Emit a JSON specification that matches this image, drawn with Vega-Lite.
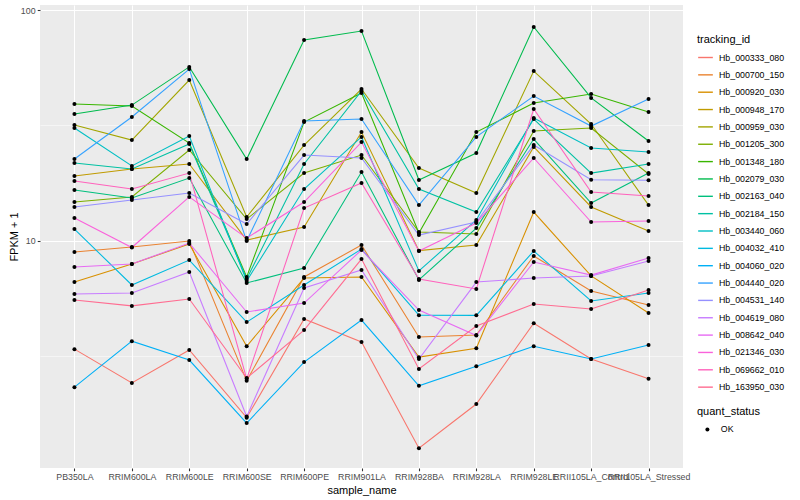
{
  "$schema": "https://vega.github.io/schema/vega-lite/v6.json",
  "width": 643,
  "height": 463,
  "autosize": {"type": "none"},
  "padding": {"left": 40, "top": 5, "right": 117, "bottom": 32},
  "background": "#FFFFFF",
  "config": {
    "view": {"fill": "#EBEBEB", "stroke": null},
    "font": "Liberation Sans",
    "axis": {
      "labelFont": "Liberation Sans",
      "titleFont": "Liberation Sans",
      "labelFontSize": 8.8,
      "labelColor": "#4D4D4D",
      "titleFontSize": 11,
      "titleColor": "#000000",
      "titleFontWeight": "normal",
      "tickColor": "#333333",
      "tickSize": 2.75,
      "tickWidth": 1.07,
      "domain": false,
      "gridColor": "#FFFFFF",
      "gridWidth": 1.07,
      "gridOpacity": 1,
      "labelPadding": 2.2
    },
    "legend": {
      "titleFont": "Liberation Sans",
      "labelFont": "Liberation Sans",
      "titleFontSize": 11,
      "titleFontWeight": "normal",
      "titleColor": "#000000",
      "labelFontSize": 8.8,
      "labelColor": "#000000"
    }
  },
  "data": {
    "values": [
      {"tracking_id":"Hb_000333_080","sample_name":"PB350LA","FPKM":3.39,"quant_status":"OK"},
      {"tracking_id":"Hb_000333_080","sample_name":"RRIM600LA","FPKM":2.42,"quant_status":"OK"},
      {"tracking_id":"Hb_000333_080","sample_name":"RRIM600LE","FPKM":3.36,"quant_status":"OK"},
      {"tracking_id":"Hb_000333_080","sample_name":"RRIM600SE","FPKM":1.71,"quant_status":"OK"},
      {"tracking_id":"Hb_000333_080","sample_name":"RRIM600PE","FPKM":4.58,"quant_status":"OK"},
      {"tracking_id":"Hb_000333_080","sample_name":"RRIM901LA","FPKM":3.64,"quant_status":"OK"},
      {"tracking_id":"Hb_000333_080","sample_name":"RRIM928BA","FPKM":1.26,"quant_status":"OK"},
      {"tracking_id":"Hb_000333_080","sample_name":"RRIM928LA","FPKM":1.96,"quant_status":"OK"},
      {"tracking_id":"Hb_000333_080","sample_name":"RRIM928LE","FPKM":4.39,"quant_status":"OK"},
      {"tracking_id":"Hb_000333_080","sample_name":"RRII105LA_Control","FPKM":3.07,"quant_status":"OK"},
      {"tracking_id":"Hb_000333_080","sample_name":"RRII105LA_Stressed","FPKM":2.52,"quant_status":"OK"},

      {"tracking_id":"Hb_000700_150","sample_name":"PB350LA","FPKM":8.94,"quant_status":"OK"},
      {"tracking_id":"Hb_000700_150","sample_name":"RRIM600LA","FPKM":9.40,"quant_status":"OK"},
      {"tracking_id":"Hb_000700_150","sample_name":"RRIM600LE","FPKM":9.97,"quant_status":"OK"},
      {"tracking_id":"Hb_000700_150","sample_name":"RRIM600SE","FPKM":2.47,"quant_status":"OK"},
      {"tracking_id":"Hb_000700_150","sample_name":"RRIM600PE","FPKM":6.97,"quant_status":"OK"},
      {"tracking_id":"Hb_000700_150","sample_name":"RRIM901LA","FPKM":9.58,"quant_status":"OK"},
      {"tracking_id":"Hb_000700_150","sample_name":"RRIM928BA","FPKM":3.83,"quant_status":"OK"},
      {"tracking_id":"Hb_000700_150","sample_name":"RRIM928LA","FPKM":3.90,"quant_status":"OK"},
      {"tracking_id":"Hb_000700_150","sample_name":"RRIM928LE","FPKM":8.59,"quant_status":"OK"},
      {"tracking_id":"Hb_000700_150","sample_name":"RRII105LA_Control","FPKM":6.06,"quant_status":"OK"},
      {"tracking_id":"Hb_000700_150","sample_name":"RRII105LA_Stressed","FPKM":5.27,"quant_status":"OK"},

      {"tracking_id":"Hb_000920_030","sample_name":"PB350LA","FPKM":6.62,"quant_status":"OK"},
      {"tracking_id":"Hb_000920_030","sample_name":"RRIM600LA","FPKM":7.93,"quant_status":"OK"},
      {"tracking_id":"Hb_000920_030","sample_name":"RRIM600LE","FPKM":9.68,"quant_status":"OK"},
      {"tracking_id":"Hb_000920_030","sample_name":"RRIM600SE","FPKM":3.49,"quant_status":"OK"},
      {"tracking_id":"Hb_000920_030","sample_name":"RRIM600PE","FPKM":6.89,"quant_status":"OK"},
      {"tracking_id":"Hb_000920_030","sample_name":"RRIM901LA","FPKM":6.97,"quant_status":"OK"},
      {"tracking_id":"Hb_000920_030","sample_name":"RRIM928BA","FPKM":3.13,"quant_status":"OK"},
      {"tracking_id":"Hb_000920_030","sample_name":"RRIM928LA","FPKM":3.42,"quant_status":"OK"},
      {"tracking_id":"Hb_000920_030","sample_name":"RRIM928LE","FPKM":13.32,"quant_status":"OK"},
      {"tracking_id":"Hb_000920_030","sample_name":"RRII105LA_Control","FPKM":7.04,"quant_status":"OK"},
      {"tracking_id":"Hb_000920_030","sample_name":"RRII105LA_Stressed","FPKM":4.86,"quant_status":"OK"},

      {"tracking_id":"Hb_000948_170","sample_name":"PB350LA","FPKM":19.08,"quant_status":"OK"},
      {"tracking_id":"Hb_000948_170","sample_name":"RRIM600LA","FPKM":20.47,"quant_status":"OK"},
      {"tracking_id":"Hb_000948_170","sample_name":"RRIM600LE","FPKM":21.52,"quant_status":"OK"},
      {"tracking_id":"Hb_000948_170","sample_name":"RRIM600SE","FPKM":10.07,"quant_status":"OK"},
      {"tracking_id":"Hb_000948_170","sample_name":"RRIM600PE","FPKM":11.48,"quant_status":"OK"},
      {"tracking_id":"Hb_000948_170","sample_name":"RRIM901LA","FPKM":29.60,"quant_status":"OK"},
      {"tracking_id":"Hb_000948_170","sample_name":"RRIM928BA","FPKM":9.06,"quant_status":"OK"},
      {"tracking_id":"Hb_000948_170","sample_name":"RRIM928LA","FPKM":9.58,"quant_status":"OK"},
      {"tracking_id":"Hb_000948_170","sample_name":"RRIM928LE","FPKM":25.50,"quant_status":"OK"},
      {"tracking_id":"Hb_000948_170","sample_name":"RRII105LA_Control","FPKM":14.01,"quant_status":"OK"},
      {"tracking_id":"Hb_000948_170","sample_name":"RRII105LA_Stressed","FPKM":11.02,"quant_status":"OK"},

      {"tracking_id":"Hb_000959_030","sample_name":"PB350LA","FPKM":31.74,"quant_status":"OK"},
      {"tracking_id":"Hb_000959_030","sample_name":"RRIM600LA","FPKM":27.33,"quant_status":"OK"},
      {"tracking_id":"Hb_000959_030","sample_name":"RRIM600LE","FPKM":49.75,"quant_status":"OK"},
      {"tracking_id":"Hb_000959_030","sample_name":"RRIM600SE","FPKM":12.68,"quant_status":"OK"},
      {"tracking_id":"Hb_000959_030","sample_name":"RRIM600PE","FPKM":25.99,"quant_status":"OK"},
      {"tracking_id":"Hb_000959_030","sample_name":"RRIM901LA","FPKM":45.47,"quant_status":"OK"},
      {"tracking_id":"Hb_000959_030","sample_name":"RRIM928BA","FPKM":20.67,"quant_status":"OK"},
      {"tracking_id":"Hb_000959_030","sample_name":"RRIM928LA","FPKM":16.10,"quant_status":"OK"},
      {"tracking_id":"Hb_000959_030","sample_name":"RRIM928LE","FPKM":54.42,"quant_status":"OK"},
      {"tracking_id":"Hb_000959_030","sample_name":"RRII105LA_Control","FPKM":32.07,"quant_status":"OK"},
      {"tracking_id":"Hb_000959_030","sample_name":"RRII105LA_Stressed","FPKM":14.28,"quant_status":"OK"},

      {"tracking_id":"Hb_001205_300","sample_name":"PB350LA","FPKM":14.72,"quant_status":"OK"},
      {"tracking_id":"Hb_001205_300","sample_name":"RRIM600LA","FPKM":15.49,"quant_status":"OK"},
      {"tracking_id":"Hb_001205_300","sample_name":"RRIM600LE","FPKM":24.74,"quant_status":"OK"},
      {"tracking_id":"Hb_001205_300","sample_name":"RRIM600SE","FPKM":12.42,"quant_status":"OK"},
      {"tracking_id":"Hb_001205_300","sample_name":"RRIM600PE","FPKM":19.65,"quant_status":"OK"},
      {"tracking_id":"Hb_001205_300","sample_name":"RRIM901LA","FPKM":23.53,"quant_status":"OK"},
      {"tracking_id":"Hb_001205_300","sample_name":"RRIM928BA","FPKM":10.91,"quant_status":"OK"},
      {"tracking_id":"Hb_001205_300","sample_name":"RRIM928LA","FPKM":10.70,"quant_status":"OK"},
      {"tracking_id":"Hb_001205_300","sample_name":"RRIM928LE","FPKM":29.90,"quant_status":"OK"},
      {"tracking_id":"Hb_001205_300","sample_name":"RRII105LA_Control","FPKM":30.80,"quant_status":"OK"},
      {"tracking_id":"Hb_001205_300","sample_name":"RRII105LA_Stressed","FPKM":19.47,"quant_status":"OK"},

      {"tracking_id":"Hb_001348_180","sample_name":"PB350LA","FPKM":39.15,"quant_status":"OK"},
      {"tracking_id":"Hb_001348_180","sample_name":"RRIM600LA","FPKM":38.38,"quant_status":"OK"},
      {"tracking_id":"Hb_001348_180","sample_name":"RRIM600LE","FPKM":26.51,"quant_status":"OK"},
      {"tracking_id":"Hb_001348_180","sample_name":"RRIM600SE","FPKM":6.97,"quant_status":"OK"},
      {"tracking_id":"Hb_001348_180","sample_name":"RRIM600PE","FPKM":32.70,"quant_status":"OK"},
      {"tracking_id":"Hb_001348_180","sample_name":"RRIM901LA","FPKM":43.67,"quant_status":"OK"},
      {"tracking_id":"Hb_001348_180","sample_name":"RRIM928BA","FPKM":10.80,"quant_status":"OK"},
      {"tracking_id":"Hb_001348_180","sample_name":"RRIM928LA","FPKM":29.60,"quant_status":"OK"},
      {"tracking_id":"Hb_001348_180","sample_name":"RRIM928LE","FPKM":39.52,"quant_status":"OK"},
      {"tracking_id":"Hb_001348_180","sample_name":"RRII105LA_Control","FPKM":43.26,"quant_status":"OK"},
      {"tracking_id":"Hb_001348_180","sample_name":"RRII105LA_Stressed","FPKM":36.13,"quant_status":"OK"},

      {"tracking_id":"Hb_002079_030","sample_name":"PB350LA","FPKM":35.43,"quant_status":"OK"},
      {"tracking_id":"Hb_002079_030","sample_name":"RRIM600LA","FPKM":38.74,"quant_status":"OK"},
      {"tracking_id":"Hb_002079_030","sample_name":"RRIM600LE","FPKM":56.7,"quant_status":"OK"},
      {"tracking_id":"Hb_002079_030","sample_name":"RRIM600SE","FPKM":22.61,"quant_status":"OK"},
      {"tracking_id":"Hb_002079_030","sample_name":"RRIM600PE","FPKM":74.17,"quant_status":"OK"},
      {"tracking_id":"Hb_002079_030","sample_name":"RRIM901LA","FPKM":81.14,"quant_status":"OK"},
      {"tracking_id":"Hb_002079_030","sample_name":"RRIM928BA","FPKM":18.34,"quant_status":"OK"},
      {"tracking_id":"Hb_002079_030","sample_name":"RRIM928LA","FPKM":24.00,"quant_status":"OK"},
      {"tracking_id":"Hb_002079_030","sample_name":"RRIM928LE","FPKM":84.50,"quant_status":"OK"},
      {"tracking_id":"Hb_002079_030","sample_name":"RRII105LA_Control","FPKM":41.6,"quant_status":"OK"},
      {"tracking_id":"Hb_002079_030","sample_name":"RRII105LA_Stressed","FPKM":27.06,"quant_status":"OK"},

      {"tracking_id":"Hb_002163_040","sample_name":"PB350LA","FPKM":16.60,"quant_status":"OK"},
      {"tracking_id":"Hb_002163_040","sample_name":"RRIM600LA","FPKM":15.32,"quant_status":"OK"},
      {"tracking_id":"Hb_002163_040","sample_name":"RRIM600LE","FPKM":18.70,"quant_status":"OK"},
      {"tracking_id":"Hb_002163_040","sample_name":"RRIM600SE","FPKM":6.56,"quant_status":"OK"},
      {"tracking_id":"Hb_002163_040","sample_name":"RRIM600PE","FPKM":7.62,"quant_status":"OK"},
      {"tracking_id":"Hb_002163_040","sample_name":"RRIM901LA","FPKM":19.85,"quant_status":"OK"},
      {"tracking_id":"Hb_002163_040","sample_name":"RRIM928BA","FPKM":6.76,"quant_status":"OK"},
      {"tracking_id":"Hb_002163_040","sample_name":"RRIM928LA","FPKM":11.35,"quant_status":"OK"},
      {"tracking_id":"Hb_002163_040","sample_name":"RRIM928LE","FPKM":27.60,"quant_status":"OK"},
      {"tracking_id":"Hb_002163_040","sample_name":"RRII105LA_Control","FPKM":14.57,"quant_status":"OK"},
      {"tracking_id":"Hb_002163_040","sample_name":"RRII105LA_Stressed","FPKM":19.65,"quant_status":"OK"},

      {"tracking_id":"Hb_002184_150","sample_name":"PB350LA","FPKM":21.72,"quant_status":"OK"},
      {"tracking_id":"Hb_002184_150","sample_name":"RRIM600LA","FPKM":20.47,"quant_status":"OK"},
      {"tracking_id":"Hb_002184_150","sample_name":"RRIM600LE","FPKM":26.26,"quant_status":"OK"},
      {"tracking_id":"Hb_002184_150","sample_name":"RRIM600SE","FPKM":6.83,"quant_status":"OK"},
      {"tracking_id":"Hb_002184_150","sample_name":"RRIM600PE","FPKM":21.52,"quant_status":"OK"},
      {"tracking_id":"Hb_002184_150","sample_name":"RRIM901LA","FPKM":44.57,"quant_status":"OK"},
      {"tracking_id":"Hb_002184_150","sample_name":"RRIM928BA","FPKM":16.76,"quant_status":"OK"},
      {"tracking_id":"Hb_002184_150","sample_name":"RRIM928LA","FPKM":13.32,"quant_status":"OK"},
      {"tracking_id":"Hb_002184_150","sample_name":"RRIM928LE","FPKM":33.70,"quant_status":"OK"},
      {"tracking_id":"Hb_002184_150","sample_name":"RRII105LA_Control","FPKM":19.65,"quant_status":"OK"},
      {"tracking_id":"Hb_002184_150","sample_name":"RRII105LA_Stressed","FPKM":21.52,"quant_status":"OK"},

      {"tracking_id":"Hb_003440_060","sample_name":"PB350LA","FPKM":30.80,"quant_status":"OK"},
      {"tracking_id":"Hb_003440_060","sample_name":"RRIM600LA","FPKM":21.09,"quant_status":"OK"},
      {"tracking_id":"Hb_003440_060","sample_name":"RRIM600LE","FPKM":28.45,"quant_status":"OK"},
      {"tracking_id":"Hb_003440_060","sample_name":"RRIM600SE","FPKM":6.69,"quant_status":"OK"},
      {"tracking_id":"Hb_003440_060","sample_name":"RRIM600PE","FPKM":16.76,"quant_status":"OK"},
      {"tracking_id":"Hb_003440_060","sample_name":"RRIM901LA","FPKM":28.18,"quant_status":"OK"},
      {"tracking_id":"Hb_003440_060","sample_name":"RRIM928BA","FPKM":7.40,"quant_status":"OK"},
      {"tracking_id":"Hb_003440_060","sample_name":"RRIM928LA","FPKM":12.30,"quant_status":"OK"},
      {"tracking_id":"Hb_003440_060","sample_name":"RRIM928LE","FPKM":34.04,"quant_status":"OK"},
      {"tracking_id":"Hb_003440_060","sample_name":"RRII105LA_Control","FPKM":25.24,"quant_status":"OK"},
      {"tracking_id":"Hb_003440_060","sample_name":"RRII105LA_Stressed","FPKM":24.25,"quant_status":"OK"},

      {"tracking_id":"Hb_004032_410","sample_name":"PB350LA","FPKM":11.24,"quant_status":"OK"},
      {"tracking_id":"Hb_004032_410","sample_name":"RRIM600LA","FPKM":6.43,"quant_status":"OK"},
      {"tracking_id":"Hb_004032_410","sample_name":"RRIM600LE","FPKM":8.25,"quant_status":"OK"},
      {"tracking_id":"Hb_004032_410","sample_name":"RRIM600SE","FPKM":4.44,"quant_status":"OK"},
      {"tracking_id":"Hb_004032_410","sample_name":"RRIM600PE","FPKM":6.43,"quant_status":"OK"},
      {"tracking_id":"Hb_004032_410","sample_name":"RRIM901LA","FPKM":9.20,"quant_status":"OK"},
      {"tracking_id":"Hb_004032_410","sample_name":"RRIM928BA","FPKM":4.76,"quant_status":"OK"},
      {"tracking_id":"Hb_004032_410","sample_name":"RRIM928LA","FPKM":4.75,"quant_status":"OK"},
      {"tracking_id":"Hb_004032_410","sample_name":"RRIM928LE","FPKM":9.03,"quant_status":"OK"},
      {"tracking_id":"Hb_004032_410","sample_name":"RRII105LA_Control","FPKM":5.48,"quant_status":"OK"},
      {"tracking_id":"Hb_004032_410","sample_name":"RRII105LA_Stressed","FPKM":5.94,"quant_status":"OK"},

      {"tracking_id":"Hb_004060_020","sample_name":"PB350LA","FPKM":2.32,"quant_status":"OK"},
      {"tracking_id":"Hb_004060_020","sample_name":"RRIM600LA","FPKM":3.67,"quant_status":"OK"},
      {"tracking_id":"Hb_004060_020","sample_name":"RRIM600LE","FPKM":3.04,"quant_status":"OK"},
      {"tracking_id":"Hb_004060_020","sample_name":"RRIM600SE","FPKM":1.62,"quant_status":"OK"},
      {"tracking_id":"Hb_004060_020","sample_name":"RRIM600PE","FPKM":2.98,"quant_status":"OK"},
      {"tracking_id":"Hb_004060_020","sample_name":"RRIM901LA","FPKM":4.53,"quant_status":"OK"},
      {"tracking_id":"Hb_004060_020","sample_name":"RRIM928BA","FPKM":2.35,"quant_status":"OK"},
      {"tracking_id":"Hb_004060_020","sample_name":"RRIM928LA","FPKM":2.86,"quant_status":"OK"},
      {"tracking_id":"Hb_004060_020","sample_name":"RRIM928LE","FPKM":3.49,"quant_status":"OK"},
      {"tracking_id":"Hb_004060_020","sample_name":"RRII105LA_Control","FPKM":3.07,"quant_status":"OK"},
      {"tracking_id":"Hb_004060_020","sample_name":"RRII105LA_Stressed","FPKM":3.53,"quant_status":"OK"},

      {"tracking_id":"Hb_004440_020","sample_name":"PB350LA","FPKM":22.61,"quant_status":"OK"},
      {"tracking_id":"Hb_004440_020","sample_name":"RRIM600LA","FPKM":34.40,"quant_status":"OK"},
      {"tracking_id":"Hb_004440_020","sample_name":"RRIM600LE","FPKM":55.5,"quant_status":"OK"},
      {"tracking_id":"Hb_004440_020","sample_name":"RRIM600SE","FPKM":9.97,"quant_status":"OK"},
      {"tracking_id":"Hb_004440_020","sample_name":"RRIM600PE","FPKM":33.04,"quant_status":"OK"},
      {"tracking_id":"Hb_004440_020","sample_name":"RRIM901LA","FPKM":33.70,"quant_status":"OK"},
      {"tracking_id":"Hb_004440_020","sample_name":"RRIM928BA","FPKM":14.28,"quant_status":"OK"},
      {"tracking_id":"Hb_004440_020","sample_name":"RRIM928LA","FPKM":28.2,"quant_status":"OK"},
      {"tracking_id":"Hb_004440_020","sample_name":"RRIM928LE","FPKM":42.4,"quant_status":"OK"},
      {"tracking_id":"Hb_004440_020","sample_name":"RRII105LA_Control","FPKM":31.43,"quant_status":"OK"},
      {"tracking_id":"Hb_004440_020","sample_name":"RRII105LA_Stressed","FPKM":41.15,"quant_status":"OK"},

      {"tracking_id":"Hb_004531_140","sample_name":"PB350LA","FPKM":14.01,"quant_status":"OK"},
      {"tracking_id":"Hb_004531_140","sample_name":"RRIM600LA","FPKM":15.02,"quant_status":"OK"},
      {"tracking_id":"Hb_004531_140","sample_name":"RRIM600LE","FPKM":16.10,"quant_status":"OK"},
      {"tracking_id":"Hb_004531_140","sample_name":"RRIM600SE","FPKM":11.82,"quant_status":"OK"},
      {"tracking_id":"Hb_004531_140","sample_name":"RRIM600PE","FPKM":23.53,"quant_status":"OK"},
      {"tracking_id":"Hb_004531_140","sample_name":"RRIM901LA","FPKM":22.84,"quant_status":"OK"},
      {"tracking_id":"Hb_004531_140","sample_name":"RRIM928BA","FPKM":10.58,"quant_status":"OK"},
      {"tracking_id":"Hb_004531_140","sample_name":"RRIM928LA","FPKM":12.05,"quant_status":"OK"},
      {"tracking_id":"Hb_004531_140","sample_name":"RRIM928LE","FPKM":25.99,"quant_status":"OK"},
      {"tracking_id":"Hb_004531_140","sample_name":"RRII105LA_Control","FPKM":18.4,"quant_status":"OK"},
      {"tracking_id":"Hb_004531_140","sample_name":"RRII105LA_Stressed","FPKM":18.3,"quant_status":"OK"},

      {"tracking_id":"Hb_004619_080","sample_name":"PB350LA","FPKM":5.88,"quant_status":"OK"},
      {"tracking_id":"Hb_004619_080","sample_name":"RRIM600LA","FPKM":5.94,"quant_status":"OK"},
      {"tracking_id":"Hb_004619_080","sample_name":"RRIM600LE","FPKM":7.32,"quant_status":"OK"},
      {"tracking_id":"Hb_004619_080","sample_name":"RRIM600SE","FPKM":1.73,"quant_status":"OK"},
      {"tracking_id":"Hb_004619_080","sample_name":"RRIM600PE","FPKM":6.24,"quant_status":"OK"},
      {"tracking_id":"Hb_004619_080","sample_name":"RRIM901LA","FPKM":7.47,"quant_status":"OK"},
      {"tracking_id":"Hb_004619_080","sample_name":"RRIM928BA","FPKM":3.07,"quant_status":"OK"},
      {"tracking_id":"Hb_004619_080","sample_name":"RRIM928LA","FPKM":6.62,"quant_status":"OK"},
      {"tracking_id":"Hb_004619_080","sample_name":"RRIM928LE","FPKM":6.89,"quant_status":"OK"},
      {"tracking_id":"Hb_004619_080","sample_name":"RRII105LA_Control","FPKM":7.04,"quant_status":"OK"},
      {"tracking_id":"Hb_004619_080","sample_name":"RRII105LA_Stressed","FPKM":8.17,"quant_status":"OK"},

      {"tracking_id":"Hb_008642_040","sample_name":"PB350LA","FPKM":7.70,"quant_status":"OK"},
      {"tracking_id":"Hb_008642_040","sample_name":"RRIM600LA","FPKM":7.93,"quant_status":"OK"},
      {"tracking_id":"Hb_008642_040","sample_name":"RRIM600LE","FPKM":9.77,"quant_status":"OK"},
      {"tracking_id":"Hb_008642_040","sample_name":"RRIM600SE","FPKM":4.91,"quant_status":"OK"},
      {"tracking_id":"Hb_008642_040","sample_name":"RRIM600PE","FPKM":5.37,"quant_status":"OK"},
      {"tracking_id":"Hb_008642_040","sample_name":"RRIM901LA","FPKM":9.12,"quant_status":"OK"},
      {"tracking_id":"Hb_008642_040","sample_name":"RRIM928BA","FPKM":5.01,"quant_status":"OK"},
      {"tracking_id":"Hb_008642_040","sample_name":"RRIM928LA","FPKM":3.88,"quant_status":"OK"},
      {"tracking_id":"Hb_008642_040","sample_name":"RRIM928LE","FPKM":8.09,"quant_status":"OK"},
      {"tracking_id":"Hb_008642_040","sample_name":"RRII105LA_Control","FPKM":7.10,"quant_status":"OK"},
      {"tracking_id":"Hb_008642_040","sample_name":"RRII105LA_Stressed","FPKM":8.42,"quant_status":"OK"},

      {"tracking_id":"Hb_021346_030","sample_name":"PB350LA","FPKM":12.54,"quant_status":"OK"},
      {"tracking_id":"Hb_021346_030","sample_name":"RRIM600LA","FPKM":9.35,"quant_status":"OK"},
      {"tracking_id":"Hb_021346_030","sample_name":"RRIM600LE","FPKM":15.49,"quant_status":"OK"},
      {"tracking_id":"Hb_021346_030","sample_name":"RRIM600SE","FPKM":10.27,"quant_status":"OK"},
      {"tracking_id":"Hb_021346_030","sample_name":"RRIM600PE","FPKM":14.72,"quant_status":"OK"},
      {"tracking_id":"Hb_021346_030","sample_name":"RRIM901LA","FPKM":26.78,"quant_status":"OK"},
      {"tracking_id":"Hb_021346_030","sample_name":"RRIM928BA","FPKM":9.03,"quant_status":"OK"},
      {"tracking_id":"Hb_021346_030","sample_name":"RRIM928LA","FPKM":11.93,"quant_status":"OK"},
      {"tracking_id":"Hb_021346_030","sample_name":"RRIM928LE","FPKM":22.84,"quant_status":"OK"},
      {"tracking_id":"Hb_021346_030","sample_name":"RRII105LA_Control","FPKM":12.05,"quant_status":"OK"},
      {"tracking_id":"Hb_021346_030","sample_name":"RRII105LA_Stressed","FPKM":12.18,"quant_status":"OK"},

      {"tracking_id":"Hb_069662_010","sample_name":"PB350LA","FPKM":18.16,"quant_status":"OK"},
      {"tracking_id":"Hb_069662_010","sample_name":"RRIM600LA","FPKM":16.76,"quant_status":"OK"},
      {"tracking_id":"Hb_069662_010","sample_name":"RRIM600LE","FPKM":19.65,"quant_status":"OK"},
      {"tracking_id":"Hb_069662_010","sample_name":"RRIM600SE","FPKM":2.52,"quant_status":"OK"},
      {"tracking_id":"Hb_069662_010","sample_name":"RRIM600PE","FPKM":13.86,"quant_status":"OK"},
      {"tracking_id":"Hb_069662_010","sample_name":"RRIM901LA","FPKM":17.79,"quant_status":"OK"},
      {"tracking_id":"Hb_069662_010","sample_name":"RRIM928BA","FPKM":6.83,"quant_status":"OK"},
      {"tracking_id":"Hb_069662_010","sample_name":"RRIM928LA","FPKM":6.18,"quant_status":"OK"},
      {"tracking_id":"Hb_069662_010","sample_name":"RRIM928LE","FPKM":37.24,"quant_status":"OK"},
      {"tracking_id":"Hb_069662_010","sample_name":"RRII105LA_Control","FPKM":16.27,"quant_status":"OK"},
      {"tracking_id":"Hb_069662_010","sample_name":"RRII105LA_Stressed","FPKM":15.64,"quant_status":"OK"},

      {"tracking_id":"Hb_163950_030","sample_name":"PB350LA","FPKM":5.54,"quant_status":"OK"},
      {"tracking_id":"Hb_163950_030","sample_name":"RRIM600LA","FPKM":5.22,"quant_status":"OK"},
      {"tracking_id":"Hb_163950_030","sample_name":"RRIM600LE","FPKM":5.59,"quant_status":"OK"},
      {"tracking_id":"Hb_163950_030","sample_name":"RRIM600SE","FPKM":2.54,"quant_status":"OK"},
      {"tracking_id":"Hb_163950_030","sample_name":"RRIM600PE","FPKM":4.10,"quant_status":"OK"},
      {"tracking_id":"Hb_163950_030","sample_name":"RRIM901LA","FPKM":8.33,"quant_status":"OK"},
      {"tracking_id":"Hb_163950_030","sample_name":"RRIM928BA","FPKM":2.78,"quant_status":"OK"},
      {"tracking_id":"Hb_163950_030","sample_name":"RRIM928LA","FPKM":4.27,"quant_status":"OK"},
      {"tracking_id":"Hb_163950_030","sample_name":"RRIM928LE","FPKM":5.32,"quant_status":"OK"},
      {"tracking_id":"Hb_163950_030","sample_name":"RRII105LA_Control","FPKM":5.06,"quant_status":"OK"},
      {"tracking_id":"Hb_163950_030","sample_name":"RRII105LA_Stressed","FPKM":6.12,"quant_status":"OK"}
    ]
  },
  "encoding": {
    "x": {
      "field": "sample_name",
      "type": "nominal",
      "sort": ["PB350LA","RRIM600LA","RRIM600LE","RRIM600SE","RRIM600PE","RRIM901LA","RRIM928BA","RRIM928LA","RRIM928LE","RRII105LA_Control","RRII105LA_Stressed"],
      "scale": {"type": "point", "padding": 0.6},
      "axis": {"title": "sample_name", "labelAngle": 0, "labelOverlap": false, "grid": true, "titlePadding": 3}
    },
    "y": {
      "field": "FPKM",
      "type": "quantitative",
      "scale": {"type": "log", "domain": [1.035, 105.2], "nice": false, "zero": false},
      "axis": {
        "title": "FPKM + 1",
        "values": [3.16228, 10, 31.6228, 100],
        "labelExpr": "datum.value == 10 ? '10' : (datum.value == 100 ? '100' : '')",
        "tickOpacity": {"condition": {"test": "datum.value == 10 || datum.value == 100", "value": 1}, "value": 0},
        "gridWidth": {"condition": {"test": "datum.value == 10 || datum.value == 100", "value": 1.07}, "value": 0.53},
        "titlePadding": 1
      }
    }
  },
  "layer": [
    {
      "mark": {"type": "line", "strokeWidth": 1.07},
      "encoding": {
        "color": {
          "field": "tracking_id",
          "type": "nominal",
          "scale": {
            "domain": ["Hb_000333_080","Hb_000700_150","Hb_000920_030","Hb_000948_170","Hb_000959_030","Hb_001205_300","Hb_001348_180","Hb_002079_030","Hb_002163_040","Hb_002184_150","Hb_003440_060","Hb_004032_410","Hb_004060_020","Hb_004440_020","Hb_004531_140","Hb_004619_080","Hb_008642_040","Hb_021346_030","Hb_069662_010","Hb_163950_030"],
            "range": ["#F8766D","#EA8331","#D89000","#C09B00","#A3A500","#7CAE00","#39B600","#00BB4E","#00BF7D","#00C1A3","#00BFC4","#00BAE0","#00B0F6","#35A2FF","#9590FF","#C77CFF","#E76BF3","#FA62DB","#FF62BC","#FF6C91"]
          },
          "legend": {
            "title": "tracking_id",
            "orient": "none",
            "legendX": 657,
            "legendY": 29,
            "symbolType": "stroke",
            "symbolSize": 216,
            "symbolStrokeWidth": 1.4,
            "rowPadding": 3.35,
            "labelOffset": 5,
            "titlePadding": 4
          }
        }
      }
    },
    {
      "mark": {"type": "point", "filled": true, "size": 16, "opacity": 1, "color": "#000000"},
      "encoding": {
        "shape": {
          "field": "quant_status",
          "type": "nominal",
          "scale": {"domain": ["OK"], "range": ["circle"]},
          "legend": {
            "title": "quant_status",
            "orient": "none",
            "legendX": 657,
            "legendY": 401,
            "symbolSize": 16,
            "symbolFillColor": "#000000",
            "symbolStrokeColor": "#000000",
            "symbolOffset": 6,
            "labelOffset": 9,
            "titlePadding": 8
          }
        }
      }
    }
  ]
}
